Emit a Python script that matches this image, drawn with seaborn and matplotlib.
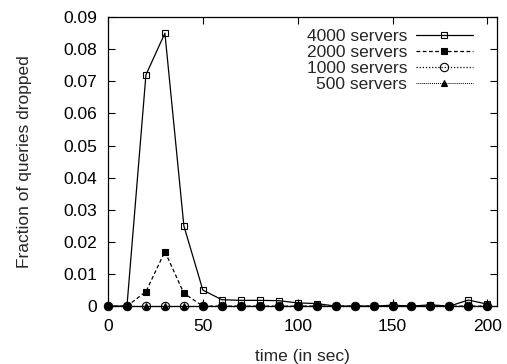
import numpy as np
import pandas as pd
import matplotlib
matplotlib.use("Agg")
import matplotlib.pyplot as plt
from matplotlib.ticker import FuncFormatter
import seaborn as sns

# valeurs
time_sec = list(range(0, 201, 10))
drop_4000 = [0, 0, 0.072, 0.085, 0.025, 0.005, 0.002, 0.0018, 0.0018, 0.0017, 0.001,
             0.0008, 0, 0, 0, 0.0003, 0, 0.0004, 0, 0.0019, 0.0006]
drop_2000 = [0, 0, 0.0045, 0.017, 0.004] + [0] * 16
drop_1000 = [0] * 21
drop_500 = [0] * 21

series_labels = ["4000 servers", "2000 servers", "1000 servers", "500 servers"]

sns.set_theme(style="ticks")
plt.rcParams['font.family'] = ['Liberation Sans', 'DejaVu Sans']
plt.rcParams['font.size'] = 12.5

fig = plt.figure(figsize=(5.07, 3.64), dpi=100)
ax = fig.add_axes([0.213, 0.159, 0.767, 0.794])

styles = [
    dict(linestyle="-", marker="s", markerfacecolor="none", markersize=5, linewidth=0.9),
    dict(linestyle=(0, (3, 2)), marker="s", markerfacecolor="black", markersize=5, linewidth=0.9),
    dict(linestyle=(0, (1, 1.5)), marker="o", markerfacecolor="none", markersize=6, linewidth=0.9),
    dict(linestyle=(0, (1, 1)), marker="^", markerfacecolor="black", markersize=4, linewidth=0.7),
]
values = [drop_4000, drop_2000, drop_1000, drop_500]

for lab, vals, st in zip(series_labels, values, styles):
    df = pd.DataFrame({"time": time_sec, "drop": vals})
    sns.lineplot(data=df, x="time", y="drop", ax=ax, color="black", label=lab,
                 markeredgecolor="black", markeredgewidth=0.8, clip_on=False, **st)

ax.set_xlim(0, 205)
ax.set_ylim(0, 0.09)
ax.set_xticks([0, 50, 100, 150, 200])
ax.set_yticks(np.arange(0, 0.091, 0.01))
ax.yaxis.set_major_formatter(FuncFormatter(lambda v, p: "0" if abs(v) < 1e-9 else f"{v:.2f}"))
ax.tick_params(direction="in", top=True, right=True, length=5, width=0.8, labelsize=12.5, colors="black")
ax.tick_params(axis="x", pad=9)
ax.tick_params(axis="y", pad=8)
for s in ax.spines.values():
    s.set_linewidth(0.9)
    s.set_color("black")

ax.set_xlabel("time (in sec)", fontsize=12.5, labelpad=11)
ax.set_ylabel("Fraction of queries dropped", fontsize=12.5, labelpad=22)

ax.legend(loc="upper right", frameon=False, markerfirst=False, fontsize=12.5,
          handlelength=3.3, handletextpad=0.5, labelspacing=0.05,
          borderaxespad=0.3, bbox_to_anchor=(0.97, 1.0))

fig.savefig("out.png", dpi=100)
